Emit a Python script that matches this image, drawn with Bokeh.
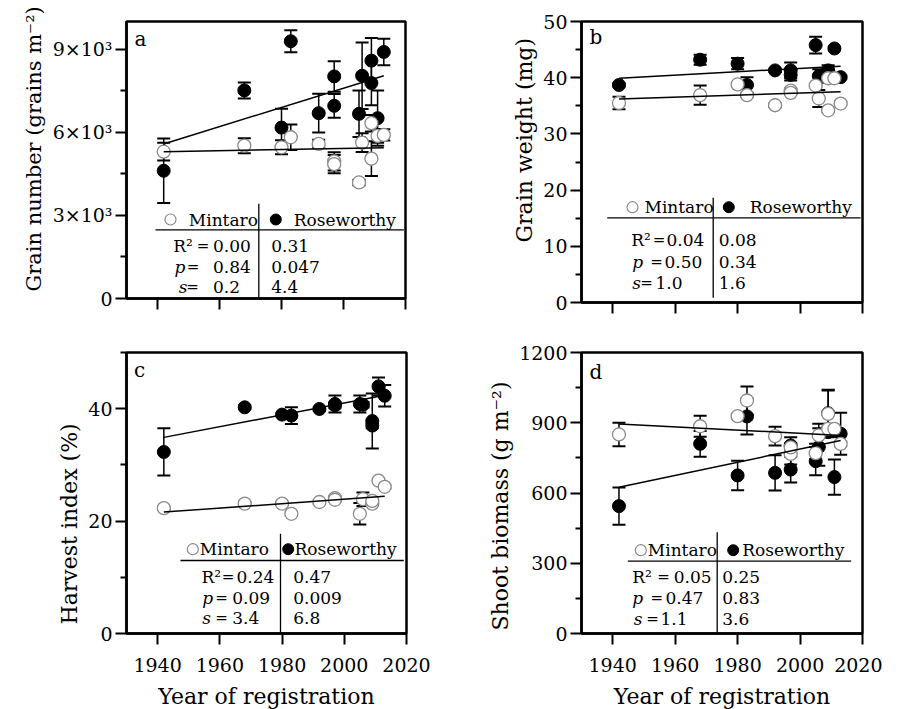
from bokeh.plotting import figure
from bokeh.models import FixedTicker, Whisker, TeeHead, ColumnDataSource, Range1d, Title
from bokeh.layouts import row, column
from bokeh.embed import file_html
from bokeh.resources import INLINE
from bokeh.core.properties import value

FONT = "DejaVu Serif"

# ---------------- data ----------------
years = [1942, 1968, 1980, 1983, 1992, 1997, 1997, 2005, 2006, 2009, 2009, 2011, 2013]
fit_years = [1942, 2013]
x_ticks = [1940, 1960, 1980, 2000, 2020]
x_range = [1930, 2020]

# (a) grain number (grains m-2)
gn_min = [5300, 5518, 5459, 5821, 5580, 4950, 4850, 4190, 5628, 6329, 5048, 5870, 5906]
gn_min_se = [320, 270, 250, 460, 150, 330, 330, 100, 340, 300, 630, 250, 200]
gn_ros = [4612, 7511, 6170, 9287, 6690, 8018, 6957, 6667, 8043, 8587, 7778, 6510, 8900]
gn_ros_se = [1160, 290, 680, 400, 700, 550, 430, 840, 1200, 820, 800, 1000, 480]
gn_fit_min = [5300, 5446]
gn_fit_ros = [5580, 8043]
gn_stats_min = ["0.00", "0.84", "0.2"]
gn_stats_ros = ["0.31", "0.047", "4.4"]
gn_ticks = [0, 3000, 6000, 9000]
gn_minor = [1500, 4500, 7500]
gn_tick_labels = ["0", "3×10³", "6×10³", "9×10³"]

# (b) grain weight (mg)
gw_min = [35.5, 36.9, 38.8, 36.9, 35.1, 37.7, 37.3, 38.6, 36.3, 39.9, 34.2, 39.9, 35.4]
gw_min_se = [1.1, 1.7, 0.3, 0.3, 0.3, 0.4, 0.3, 0.3, 1.5, 0.3, 0.3, 0.3, 0.3]
gw_ros = [38.7, 43.2, 42.5, 38.7, 41.3, 41.3, 40.5, 45.8, 40.3, 41.3, 40.8, 45.2, 40.1]
gw_ros_se = [0.3, 0.9, 1.0, 1.4, 0.3, 1.4, 1.0, 1.5, 1.2, 0.9, 0.5, 0.3, 0.3]
gw_fit_min = [36.2, 37.5]
gw_fit_ros = [39.9, 42.05]
gw_stats_min = ["0.04", "0.50", "1.0"]
gw_stats_ros = ["0.08", "0.34", "1.6"]
gw_ticks = [0, 10, 20, 30, 40, 50]
gw_minor = [5, 15, 25, 35, 45]

# (c) harvest index (%)
hi_min = [22.3, 23.1, 23.1, 21.3, 23.4, 24.1, 23.8, 21.3, 23.9, 23.1, 23.6, 27.2, 26.1]
hi_min_se = [0.3, 0.3, 0.3, 0.3, 0.3, 0.3, 0.3, 1.9, 1.2, 0.3, 0.3, 0.3, 0.3]
hi_ros = [32.3, 40.25, 38.95, 38.77, 39.95, 40.84, 40.6, 40.84, 40.7, 37.8, 37.0, 43.97, 42.3]
hi_ros_se = [4.2, 0.3, 0.3, 1.5, 0.3, 1.5, 0.5, 1.5, 0.5, 4.9, 0.5, 1.6, 1.9]
hi_fit_min = [21.6, 24.4]
hi_fit_ros = [34.9, 42.4]
hi_stats_min = ["0.24", "0.09", "3.4"]
hi_stats_ros = ["0.47", "0.009", "6.8"]
hi_ticks = [0, 20, 40]
hi_minor = [10, 30, 50]

# (d) shoot biomass (g m-2)
sb_min = [850, 885, 928, 995, 843, 767, 795, 770, 846, 938, 874, 874, 810]
sb_min_se = [50, 45, 10, 60, 40, 45, 10, 40, 50, 100, 10, 10, 10]
sb_ros = [544, 810, 675, 927, 686, 700, 803, 736, 796, 941, 860, 668, 853]
sb_ros_se = [80, 55, 63, 77, 75, 55, 35, 60, 80, 100, 20, 75, 90]
sb_fit_min = [895, 846]
sb_fit_ros = [625, 824]
sb_stats_min = ["0.05", "0.47", "1.1"]
sb_stats_ros = ["0.25", "0.83", "3.6"]
sb_ticks = [0, 300, 600, 900, 1200]
sb_minor = [150, 450, 750, 1050]

stat_labels = ["R²", "p", "s"]
stat_styles = ["normal", "italic", "italic"]

# ---------------- layout (page pixels of the reference) ----------------
GEOM = {
    "a": dict(x0=0, y0=0, bl=126, bt=21, fw=279, fh=277, br=55, bb=40, ylab_off=7, ylab_size="21px"),
    "b": dict(x0=460, y0=0, bl=121, bt=17, fw=281, fh=281, br=20, bb=40, ylab_off=60, ylab_size="22px"),
    "c": dict(x0=0, y0=338, bl=126, bt=14, fw=280, fh=281, br=54, bb=76, ylab_off=9, ylab_size="22px"),
    "d": dict(x0=460, y0=338, bl=121, bt=14, fw=281, fh=281, br=20, bb=76, ylab_off=3, ylab_size="22px"),
}

TABLES = {
    "a": dict(letter=(140, 38), hdr_y=219, open_x=170, min_x=188.3, vline_x=258.3,
              vline_top=203.3, vline_bot=298, filled_x=275.3, ros_x=293.3, hline_y=229.3, hline_x0=155,
              hline_x1=403.3, rows_y=[245.5, 266.3, 286.3], lab_x=[172.7, 174, 178.3],
              eq_c=[202.5, 192.5, 192], val_x=[212.5, 212.5, 212.5], ros_val_x=270.7),
    "b": dict(letter=(595.3, 32), hdr_y=202.7, open_x=632, min_x=644, vline_x=712.7,
              vline_top=193.3, vline_bot=293.3, filled_x=728.3, ros_x=749.3, hline_y=213.3, hline_x0=606.7,
              hline_x1=860, rows_y=[235.3, 257, 278.3], lab_x=[630.7, 631.7, 631.7],
              eq_c=[658.5, 656, 646], val_x=[666, 664, 655], ros_val_x=718.3),
    "c": dict(letter=(139, 369), hdr_y=548.7, open_x=192.3, min_x=199.3, vline_x=280,
              vline_top=533.3, vline_bot=633, filled_x=287.7, ros_x=294, hline_y=560, hline_x0=180,
              hline_x1=403.3, rows_y=[576.7, 597.3, 617.7], lab_x=[201, 201.7, 201.7],
              eq_c=[227.5, 221, 221], val_x=[236, 231.7, 231.7], ros_val_x=292.7),
    "d": dict(letter=(595.3, 371), hdr_y=549.7, open_x=640.3, min_x=647.3, vline_x=716.7,
              vline_top=531.7, vline_bot=633, filled_x=732.7, ros_x=741.7, hline_y=560.7, hline_x0=627.3,
              hline_x1=850.7, rows_y=[576, 597.3, 618.3], lab_x=[631.7, 631.7, 633.3],
              eq_c=[663, 656.4, 652], val_x=[673.3, 665, 660], ros_val_x=721.7),
}

OPEN_COLOR = "#8a8a8a"
TXT = "17px"


def make_conv(g, ymax):
    fl = g["x0"] + g["bl"]
    ft = g["y0"] + g["bt"]

    def cx(px):
        return x_range[0] + (px - fl) * (x_range[1] - x_range[0]) / g["fw"]

    def cy(py):
        return ymax * (ft + g["fh"] - py) / g["fh"]
    return cx, cy


def add_errorbars(p, xs, ys, se):
    src = ColumnDataSource(dict(x=xs, lo=[v - e for v, e in zip(ys, se)], hi=[v + e for v, e in zip(ys, se)]))
    w = Whisker(source=src, base="x", lower="lo", upper="hi", dimension="height",
                line_color="black", line_width=1.5,
                upper_head=TeeHead(size=13, line_color="black", line_width=2),
                lower_head=TeeHead(size=13, line_color="black", line_width=2))
    p.add_layout(w)


def panel(key, ylabel, ymax, yticks, yminor, overrides, show_x,
          mint, mint_se, ros, ros_se, fit_m, fit_r, st_m, st_r):
    g = GEOM[key]
    t = TABLES[key]
    cx, cy = make_conv(g, ymax)
    p = figure(frame_width=g["fw"], frame_height=g["fh"],
               min_border_left=g["bl"], min_border_right=g["br"],
               min_border_top=g["bt"], min_border_bottom=g["bb"],
               x_range=Range1d(*x_range), y_range=Range1d(0, ymax),
               output_backend="svg", toolbar_location=None)
    p.grid.visible = False
    p.outline_line_color = "black"
    p.outline_line_width = 2.5
    p.background_fill_color = "white"
    p.border_fill_color = "white"

    for ax in (p.xaxis[0], p.yaxis[0]):
        ax.axis_line_width = 2.5
        ax.major_tick_in = 0
        ax.major_tick_out = 11
        ax.minor_tick_in = 0
        ax.minor_tick_out = 6
        ax.major_tick_line_width = 2
        ax.minor_tick_line_width = 2
        ax.major_label_text_font = FONT
        ax.major_label_text_font_size = "19px"
        ax.major_label_text_color = "black"
        ax.axis_label_text_font = FONT
        ax.axis_label_text_font_size = "22px"
        ax.axis_label_text_font_style = "normal"
        ax.axis_label_text_color = "black"

    p.yaxis.ticker = FixedTicker(ticks=yticks, minor_ticks=yminor)
    p.yaxis.major_label_standoff = 3
    if overrides:
        p.yaxis.major_label_overrides = overrides
    # y-axis title as a side title, started at the reference position
    p.add_layout(Title(text=ylabel, align="left", offset=g["ylab_off"], standoff=8,
                       text_font=FONT, text_font_size=g["ylab_size"], text_font_style="normal",
                       text_color="black"), "left")
    if show_x:
        p.xaxis.ticker = FixedTicker(ticks=x_ticks, minor_ticks=[])
        p.xaxis.axis_label = "Year of registration"
        p.xaxis.major_label_standoff = 13
        p.xaxis.axis_label_standoff = 9
    else:
        # unlabeled ticks: drawn as minor ticks of full length
        p.xaxis.ticker = FixedTicker(ticks=[], minor_ticks=x_ticks)
        p.xaxis.minor_tick_out = 11

    # error bars
    add_errorbars(p, years, ros, ros_se)
    add_errorbars(p, years, mint, mint_se)
    # points
    p.scatter(years, ros, marker="circle", size=13, fill_color="black", line_color="black")
    p.scatter(years, mint, marker="circle", size=13, fill_color="white", line_color=OPEN_COLOR, line_width=1.3)
    # regression lines
    p.line(fit_years, fit_m, line_color="black", line_width=1.5)
    p.line(fit_years, fit_r, line_color="black", line_width=1.5)

    # panel letter
    p.text([cx(t["letter"][0])], [cy(t["letter"][1])], text=[key], text_font=value(FONT),
           text_font_size="20px", text_align="center", text_baseline="middle", text_color="black")

    # stats table
    p.segment([cx(t["hline_x0"]), cx(t["vline_x"])], [cy(t["hline_y"]), cy(t["vline_top"])],
              [cx(t["hline_x1"]), cx(t["vline_x"])], [cy(t["hline_y"]), cy(t["vline_bot"])],
              line_color="black", line_width=1.3)
    hy = cy(t["hdr_y"])
    p.scatter([cx(t["open_x"])], [hy], marker="circle", size=11, fill_color="white",
              line_color=OPEN_COLOR, line_width=1.2)
    p.scatter([cx(t["filled_x"])], [hy], marker="circle", size=11, fill_color="black", line_color="black")
    p.text([cx(t["min_x"]), cx(t["ros_x"])], [hy, hy], text=["Mintaro", "Roseworthy"],
           text_font=value(FONT), text_font_size=TXT, text_baseline="middle", text_align="left",
           text_color="black")
    ry = [cy(v) for v in t["rows_y"]]
    for i in range(3):
        p.text([cx(t["lab_x"][i])], [ry[i]], text=[stat_labels[i]], text_font=value(FONT),
               text_font_size=TXT, text_font_style=stat_styles[i], text_baseline="middle",
               text_align="left", text_color="black")
    p.text([cx(v) for v in t["eq_c"]], ry, text=["=", "=", "="], text_font=value(FONT),
           text_font_size="15px", text_baseline="middle", text_align="center", text_color="black")
    p.text([cx(v) for v in t["val_x"]], ry, text=st_m, text_font=value(FONT),
           text_font_size=TXT, text_baseline="middle", text_align="left", text_color="black")
    p.text([cx(t["ros_val_x"])] * 3, ry, text=st_r, text_font=value(FONT),
           text_font_size=TXT, text_baseline="middle", text_align="left", text_color="black")
    return p


pa = panel("a", "Grain number (grains m⁻²)", 10000, gn_ticks, gn_minor,
           {k: v for k, v in zip(gn_ticks, gn_tick_labels)}, False,
           gn_min, gn_min_se, gn_ros, gn_ros_se, gn_fit_min, gn_fit_ros, gn_stats_min, gn_stats_ros)
pb = panel("b", "Grain weight (mg)", 50, gw_ticks, gw_minor, None, False,
           gw_min, gw_min_se, gw_ros, gw_ros_se, gw_fit_min, gw_fit_ros, gw_stats_min, gw_stats_ros)
pc = panel("c", "Harvest index (%)", 50, hi_ticks, hi_minor, None, True,
           hi_min, hi_min_se, hi_ros, hi_ros_se, hi_fit_min, hi_fit_ros, hi_stats_min, hi_stats_ros)
pd_ = panel("d", "Shoot biomass (g m⁻²)", 1200, sb_ticks, sb_minor, None, True,
            sb_min, sb_min_se, sb_ros, sb_ros_se, sb_fit_min, sb_fit_ros, sb_stats_min, sb_stats_ros)

layout = column(row(pa, pb), row(pc, pd_))
open("out.html", "w").write(file_html(layout, INLINE))
